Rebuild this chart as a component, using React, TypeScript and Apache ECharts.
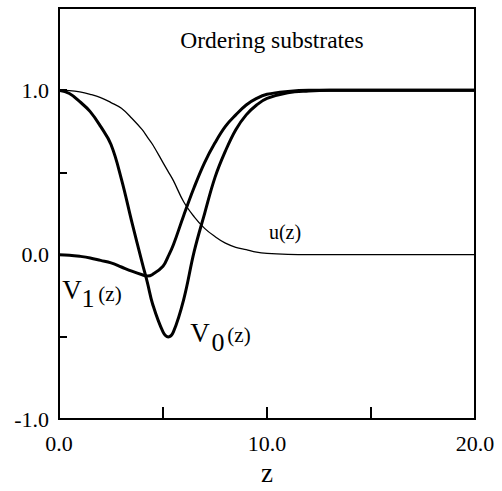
import React, { useEffect, useRef } from "react";
import * as echarts from "echarts";

const zValues = [0, 0.5, 1, 1.5, 2, 2.5, 3, 3.5, 4, 4.25, 4.5, 5, 5.25, 5.5, 6, 6.5, 7, 7.5, 8, 8.5, 9, 9.5, 10, 11, 12, 13, 14, 16, 18, 20];
const v0Values = [1.0, 0.98, 0.93, 0.87, 0.78, 0.67, 0.46, 0.2, -0.05, -0.17, -0.3, -0.47, -0.5, -0.47, -0.27, 0.02, 0.25, 0.47, 0.63, 0.76, 0.85, 0.91, 0.95, 0.985, 0.996, 1.0, 1.0, 1.0, 1.0, 1.0];
const v1Values = [0.0, -0.003, -0.01, -0.02, -0.035, -0.05, -0.075, -0.1, -0.122, -0.13, -0.12, -0.07, -0.01, 0.06, 0.24, 0.41, 0.56, 0.68, 0.78, 0.85, 0.91, 0.95, 0.975, 0.993, 1.0, 1.0, 1.0, 1.0, 1.0, 1.0];
const uValues = [1.0, 0.998, 0.99, 0.975, 0.955, 0.925, 0.89, 0.83, 0.76, 0.715, 0.67, 0.56, 0.505, 0.45, 0.32, 0.23, 0.16, 0.11, 0.07, 0.045, 0.03, 0.015, 0.008, 0.002, 0.0, 0.0, 0.0, 0.0, 0.0, 0.0];

const xLabelTicks = [0, 10, 20];
const yLabelTicks = [-1, 0, 1];

const FONT = '"Liberation Serif", "DejaVu Serif", serif';

function pairs(ys: number[]) {
  return zValues.map((z, i) => [z, ys[i]]);
}

export default function App() {
  const ref = useRef<HTMLDivElement>(null);
  useEffect(() => {
    if (!ref.current) return;
    const chart = echarts.init(ref.current, null, { renderer: "svg" });
    const txt = (text: string, x: number, y: number, size: number) => ({
      type: "text",
      x,
      y,
      style: {
        text,
        fontSize: size,
        fontFamily: FONT,
        fill: "#000",
        align: "center",
        verticalAlign: "middle",
      },
    });
    chart.setOption({
      animation: false,
      backgroundColor: "#fff",
      grid: {
        left: 59,
        top: 8,
        width: 416,
        height: 416,
        show: true,
        borderColor: "#000",
        borderWidth: 2,
        containLabel: false,
      },
      xAxis: {
        type: "value",
        min: 0,
        max: 20,
        interval: 5,
        name: "z",
        nameLocation: "middle",
        nameGap: 37,
        nameTextStyle: { fontSize: 27, fontFamily: FONT, color: "#000" },
        axisLine: { show: true, onZero: false, lineStyle: { color: "#000", width: 2 } },
        axisTick: { show: true, inside: true, length: 12, lineStyle: { color: "#000", width: 2 } },
        splitLine: { show: false },
        axisLabel: {
          fontSize: 22,
          fontFamily: FONT,
          color: "#000",
          margin: 13,
          formatter: (v: number) => (xLabelTicks.includes(v) ? v.toFixed(1) : ""),
        },
      },
      yAxis: {
        type: "value",
        min: -1,
        max: 1.5,
        interval: 0.5,
        axisLine: { show: true, onZero: false, lineStyle: { color: "#000", width: 2 } },
        axisTick: { show: true, inside: true, length: 8, lineStyle: { color: "#000", width: 2 } },
        splitLine: { show: false },
        axisLabel: {
          fontSize: 22,
          fontFamily: FONT,
          color: "#000",
          margin: 10,
          formatter: (v: number) => (yLabelTicks.includes(v) ? v.toFixed(1) : ""),
        },
      },
      series: [
        {
          name: "u(z)",
          type: "line",
          data: pairs(uValues),
          showSymbol: false,
          smooth: 0.4,
          lineStyle: { color: "#000", width: 1.3 },
        },
        {
          name: "V0(z)",
          type: "line",
          data: pairs(v0Values),
          showSymbol: false,
          smooth: 0.4,
          lineStyle: { color: "#000", width: 3 },
        },
        {
          name: "V1(z)",
          type: "line",
          data: pairs(v1Values),
          showSymbol: false,
          smooth: 0.4,
          lineStyle: { color: "#000", width: 3 },
        },
      ],
      graphic: [
        txt("Ordering substrates", 272, 40, 23.5),
        txt("u(z)", 285, 232, 20),
        txt("V", 72, 290, 27),
        txt("1", 88, 298, 26),
        txt("(z)", 110, 294, 21),
        txt("V", 200, 333, 27),
        txt("0", 218, 342, 26),
        txt("(z)", 239, 335, 21),
      ],
    });
    return () => chart.dispose();
  }, []);
  return (
    <div
      ref={ref}
      style={{ position: "fixed", left: 0, top: 0, width: 502, height: 491, background: "#fff" }}
    />
  );
}
